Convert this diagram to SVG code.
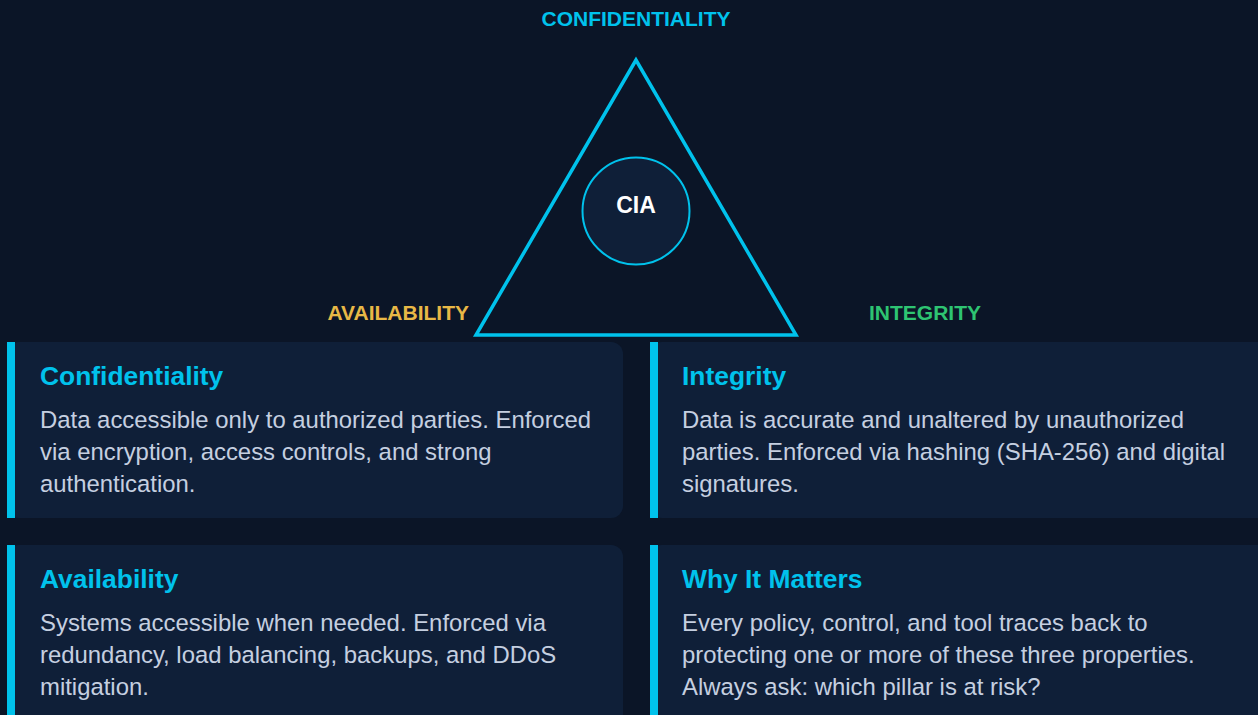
<svg xmlns="http://www.w3.org/2000/svg" width="1258" height="715" viewBox="0 0 1258 715">
  <style>
    .bg { fill: #0b1527; }
    .card { fill: #0f1f38; }
    .bar { fill: #00c2ec; }
    .label { font-family: "Liberation Sans", Arial, sans-serif; font-weight: bold; font-size: 21px; }
    .head { font-family: "Liberation Sans", Arial, sans-serif; font-weight: bold; font-size: 26.4px; fill: #00c2ec; }
    .body { font-family: "Liberation Sans", Arial, sans-serif; font-size: 23.9px; fill: #c5cfe0; }
  </style>
  <rect class="bg" x="0" y="0" width="1258" height="715"/>

  <!-- Triad graphic -->
  <g id="triad">
    <polygon points="636,60 476,335 796,335" fill="none" stroke="#00c2ec" stroke-width="3.5" stroke-linejoin="miter"/>
    <circle cx="636" cy="211" r="53.5" fill="#0f1f38" stroke="#00c2ec" stroke-width="2"/>
    <text x="636" y="213" text-anchor="middle" font-family="Liberation Sans, Arial, sans-serif" font-weight="bold" font-size="23" fill="#ffffff">CIA</text>
  </g>

  <g id="label-confidentiality">
    <text class="label" x="636" y="26" text-anchor="middle" fill="#00c2ec">CONFIDENTIALITY</text>
  </g>
  <g id="label-availability">
    <text class="label" x="469" y="320" text-anchor="end" fill="#e8b846">AVAILABILITY</text>
  </g>
  <g id="label-integrity">
    <text class="label" x="869" y="320" fill="#2ec472">INTEGRITY</text>
  </g>

  <!-- Cards -->
  <g id="card-confidentiality">
    <rect class="card" x="7" y="342" width="616" height="176" rx="12"/>
    <rect class="bar" x="7" y="342" width="8" height="176"/>
    <text class="head" x="40" y="385">Confidentiality</text>
    <text class="body" x="40" y="428">Data accessible only to authorized parties. Enforced</text>
    <text class="body" x="40" y="460">via encryption, access controls, and strong</text>
    <text class="body" x="40" y="492">authentication.</text>
  </g>

  <g id="card-integrity">
    <rect class="card" x="650" y="342" width="620" height="176" rx="12"/>
    <rect class="bar" x="650" y="342" width="8" height="176"/>
    <text class="head" x="682" y="385">Integrity</text>
    <text class="body" x="682" y="428">Data is accurate and unaltered by unauthorized</text>
    <text class="body" x="682" y="460">parties. Enforced via hashing (SHA-256) and digital</text>
    <text class="body" x="682" y="492">signatures.</text>
  </g>

  <g id="card-availability">
    <rect class="card" x="7" y="545" width="616" height="190" rx="12"/>
    <rect class="bar" x="7" y="545" width="8" height="190"/>
    <text class="head" x="40" y="588">Availability</text>
    <text class="body" x="40" y="631">Systems accessible when needed. Enforced via</text>
    <text class="body" x="40" y="663">redundancy, load balancing, backups, and DDoS</text>
    <text class="body" x="40" y="695">mitigation.</text>
  </g>

  <g id="card-why">
    <rect class="card" x="650" y="545" width="620" height="190" rx="12"/>
    <rect class="bar" x="650" y="545" width="8" height="190"/>
    <text class="head" x="682" y="588">Why It Matters</text>
    <text class="body" x="682" y="631">Every policy, control, and tool traces back to</text>
    <text class="body" x="682" y="663">protecting one or more of these three properties.</text>
    <text class="body" x="682" y="695">Always ask: which pillar is at risk?</text>
  </g>

  <g id="connectors"></g>
</svg>
